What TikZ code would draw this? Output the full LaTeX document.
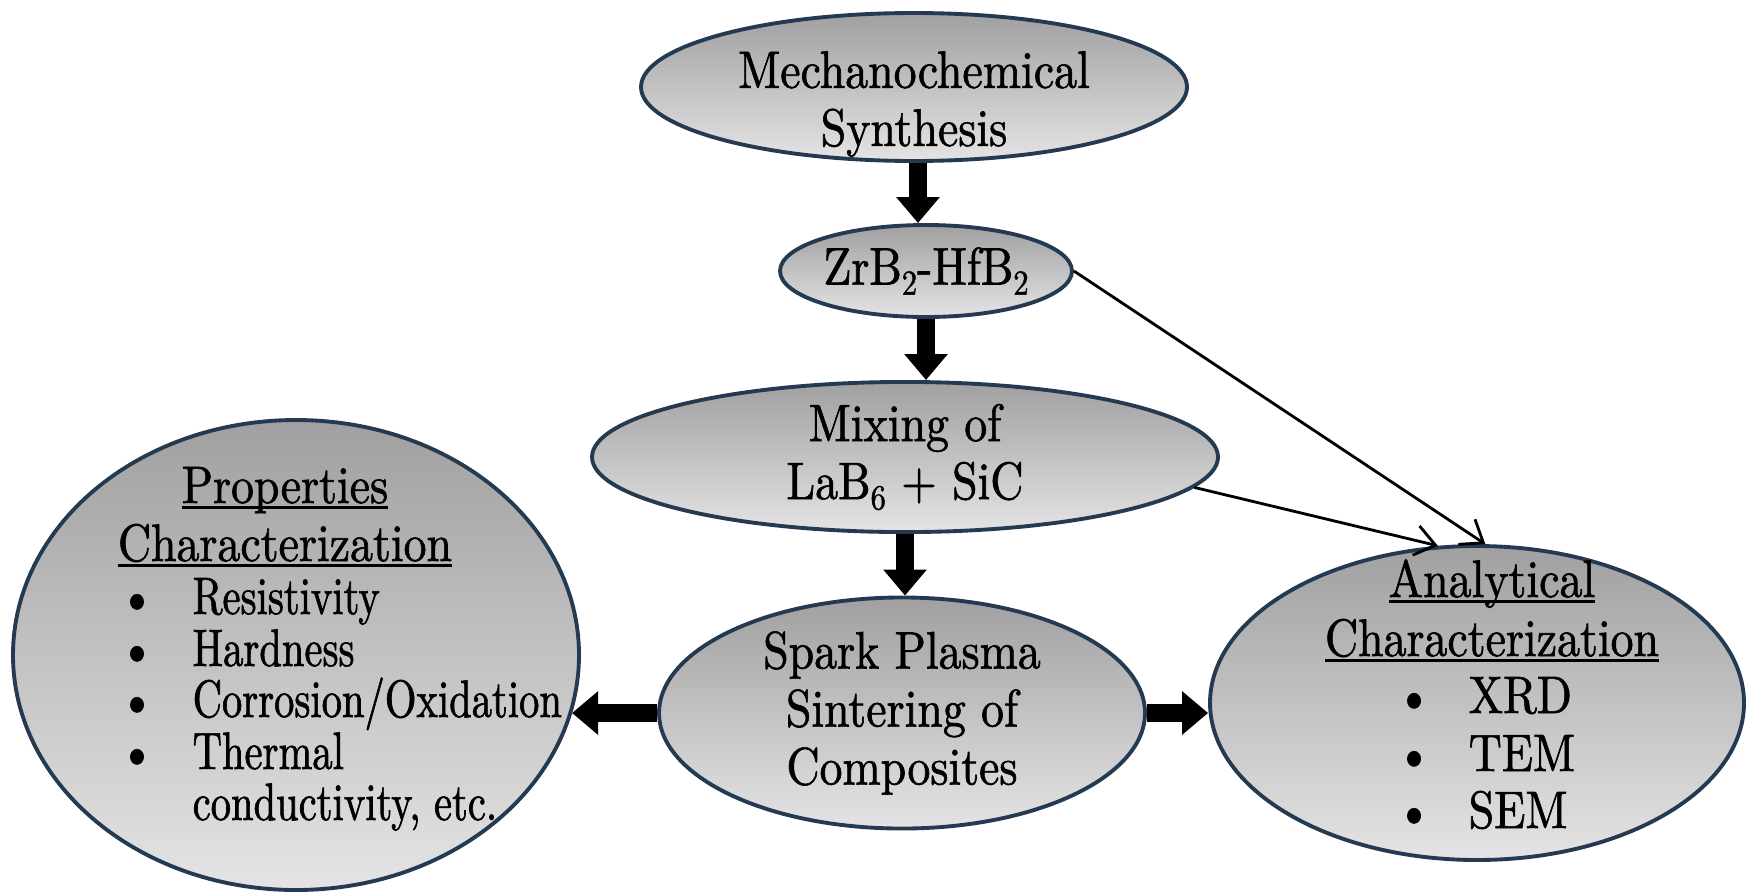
\documentclass[tikz,border=0pt]{standalone}
\usepackage{fontspec}
\setmainfont{lmroman10-regular.otf}[FakeStretch=0.87, FakeBold=1.2]
\newfontfamily\narrowfont{lmroman10-regular.otf}[FakeStretch=0.77, FakeBold=1.2]
\newsavebox{\ulbox}
\newcommand{\ulword}[1]{\sbox{\ulbox}{#1}\rlap{\rule[-1.8pt]{\wd\ulbox}{0.9pt}}\usebox{\ulbox}}
\newcommand{\lowsub}[1]{\raisebox{-0.45ex}{\fontsize{10}{10}\selectfont #1}}
\usepackage{tikz}
\usetikzlibrary{arrows.meta, shapes.geometric, positioning}
\definecolor{Rim}{HTML}{233A50}
\definecolor{ShadeTop}{HTML}{A0A0A0}
\definecolor{ShadeBot}{HTML}{E4E4E4}
\tikzset{
  blob/.style={ellipse, draw=Rim, line width=1.1pt, top color=ShadeTop, bottom color=ShadeBot, inner sep=0pt},
  txt/.style={font=\fontsize{15}{16.5}\selectfont, align=center, text=black},
  listtxt/.style={font=\narrowfont\fontsize{15}{16.5}\selectfont, text=black},
  bigarrow/.style={-{Triangle[width=0.42cm,length=0.26cm]}, line width=5.2pt, color=black},
  thinarrow/.style={-{Straight Barb[length=0.2cm,width=0.3cm]}, line width=0.8pt, color=black},
}

\begin{document}
\begin{tikzpicture}[x=0.1mm, y=-0.1mm]
  \useasboundingbox (0,0) rectangle (1746,891);

  % Process chain
  \node[blob, minimum width=5.46cm, minimum height=1.48cm] (mech) at (914,87) {};
  \node[txt] (mechtext) at (914,104) {Mechanochemical\\Synthesis};
  \node[blob, txt, minimum width=2.92cm, minimum height=0.92cm] (zrb) at (926,271) {ZrB\lowsub{2}-HfB\lowsub{2}};
  \node[blob, txt, minimum width=6.26cm, minimum height=1.44cm] (mix) at (905,457) {Mixing of\\LaB\lowsub{6} + SiC};
  \node[blob, txt, minimum width=4.86cm, minimum height=2.18cm] (sps) at (902,713) {Spark Plasma\\Sintering of\\Composites};

  % Properties ellipse
  \node[blob, minimum width=5.66cm, minimum height=4.70cm] (prop) at (296,655) {};
  \node[txt, anchor=base] (propA) at (285,503) {\ulword{Properties}};
  \node[txt, anchor=base] (propB) at (285,561) {\ulword{Characterization}};
  \foreach \yy/\word [count=\k] in {614/Resistivity, 666/Hardness, 717/{Corrosion/Oxidation}, 769/Thermal}{
    \node[txt, anchor=base] (propdot\k) at (137,\yy) {\textbullet};
    \node[listtxt, anchor=base west, inner sep=0pt] (propitem\k) at (192,\yy) {\word};
  }
  \node[listtxt, anchor=base west, inner sep=0pt] (propitem5) at (192,820) {conductivity, etc.};

  % Analytical ellipse
  \node[blob, minimum width=5.34cm, minimum height=3.14cm] (anal) at (1477,703) {};
  \node[txt, anchor=base] (analA) at (1492,597) {\ulword{Analytical}};
  \node[txt, anchor=base] (analB) at (1492,656) {\ulword{Characterization}};
  \foreach \yy/\word [count=\k] in {713/XRD, 771/TEM, 828/SEM}{
    \node[txt, anchor=base] (analdot\k) at (1414,\yy) {\textbullet};
    \node[txt, anchor=base west, inner sep=0pt] (analitem\k) at (1468,\yy) {\word};
  }

  % Arrows
  \draw[bigarrow] (mech.-87) -- (mech.-87 |- zrb.north);
  \draw[bigarrow] (zrb.south) -- (zrb.south |- mix.north);
  \draw[bigarrow] (mix.south) -- (mix.south |- sps.north);
  \draw[bigarrow] (sps.west) -- (sps.west -| prop.-12);
  \draw[bigarrow] (sps.east) -- (sps.east -| anal.west);
  \draw[thinarrow] (zrb.east) -- (anal.87);
  \draw[thinarrow] (mix.-6) -- (anal.104);
\end{tikzpicture}
\end{document}
